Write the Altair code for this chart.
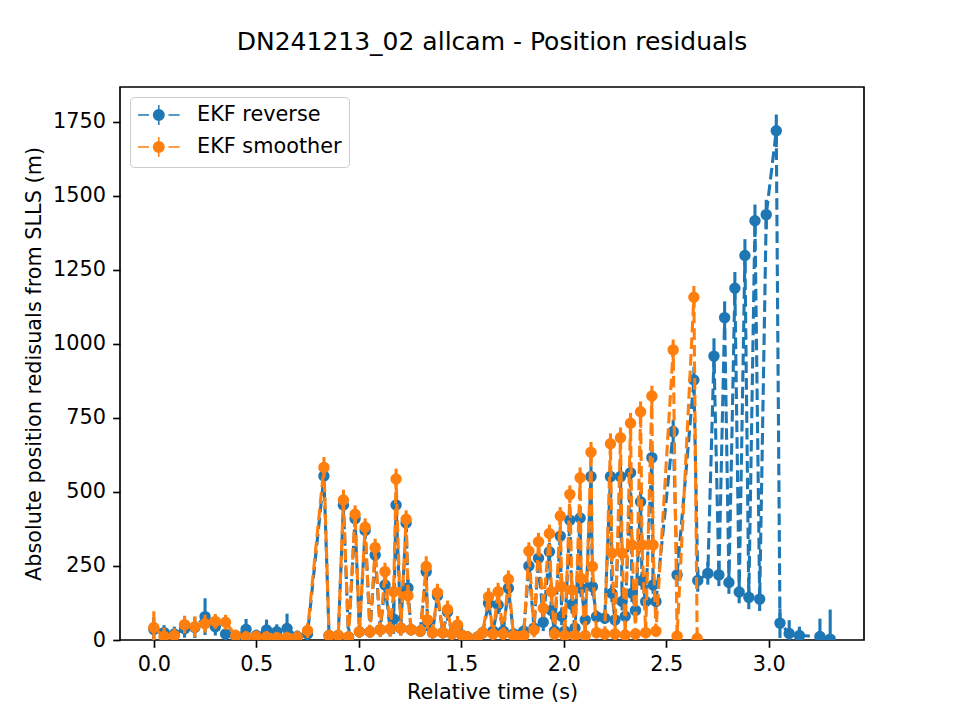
import altair as alt
import pandas as pd

# Series labels and matplotlib-style colours
SERIES = ["EKF reverse", "EKF smoother"]
COLORS = ["#1f77b4", "#ff7f0e"]

# EKF reverse: relative time (s), absolute position residual (m), 1-sigma (m)
rev_time = [0.00, 0.05, 0.10, 0.15, 0.20, 0.25, 0.30, 0.35, 0.40, 0.45, 0.50, 0.55, 0.60, 0.65, 0.70, 0.75,
            0.83, 0.855, 0.90, 0.925, 0.95, 0.982, 1.003, 1.031, 1.055, 1.08, 1.105, 1.128, 1.153, 1.17, 1.182, 1.205,
            1.231, 1.24, 1.255, 1.30, 1.329, 1.335, 1.36, 1.384, 1.41, 1.433, 1.455, 1.482, 1.505, 1.53, 1.58, 1.605,
            1.633, 1.655, 1.68, 1.705, 1.73, 1.755, 1.78, 1.805, 1.83, 1.855, 1.877, 1.90, 1.93, 1.94, 1.955, 1.983,
            1.99, 2.005, 2.03, 2.04, 2.055, 2.08, 2.085, 2.105, 2.133, 2.14, 2.16, 2.20, 2.228, 2.235, 2.25, 2.277,
            2.285, 2.30, 2.326, 2.333, 2.35, 2.375, 2.382, 2.40, 2.43, 2.436, 2.45, 2.534, 2.553, 2.635, 2.654,
            2.703, 2.733, 2.757, 2.785, 2.806, 2.835, 2.856, 2.884, 2.903, 2.933, 2.956, 2.988, 3.037, 3.055, 3.10,
            3.15, 3.25, 3.30]
rev_resid = [36, 25, 20, 38, 42, 79, 45, 20, 12, 36, 15, 34, 28, 39, 12, 20,
             554, 15, 15, 456, 10, 410, 28, 370, 28, 287, 35, 186, 37, 71, 456, 40,
             395, 176, 35, 30, 231, 60, 25, 150, 25, 95, 20, 45, 15, 10, 10, 25,
             124, 30, 118, 30, 175, 20, 15, 30, 250, 40, 276, 60, 298, 100, 30, 351,
             80, 30, 405, 120, 40, 412, 175, 68, 552, 180, 79, 74, 552, 158, 68, 552,
             130, 80, 565, 158, 100, 467, 200, 130, 616, 186, 130, 704, 220, 878, 201,
             225, 959, 220, 1089, 194, 1188, 162, 1299, 144, 1416, 138, 1437, 1720, 57, 22,
             15, 12, 3]
rev_err = [40, 25, 25, 30, 35, 62, 30, 25, 20, 35, 20, 35, 25, 50, 20, 25,
           35, 20, 20, 35, 20, 30, 20, 30, 20, 30, 25, 30, 25, 50, 35, 25,
           30, 30, 20, 20, 35, 30, 20, 30, 20, 30, 20, 30, 20, 20, 20, 20,
           30, 20, 30, 20, 30, 20, 20, 20, 30, 25, 30, 30, 30, 30, 20, 30,
           30, 20, 30, 30, 20, 35, 30, 20, 35, 30, 20, 20, 35, 30, 20, 35,
           30, 20, 35, 30, 20, 35, 30, 20, 35, 30, 30, 40, 40, 45, 38,
           38, 60, 38, 55, 38, 55, 38, 55, 40, 55, 40, 50, 55, 50, 45,
           30, 60, 100]

# EKF smoother
smo_time = [0.00, 0.05, 0.10, 0.15, 0.20, 0.25, 0.30, 0.35, 0.40, 0.45, 0.50, 0.55, 0.60, 0.65, 0.70, 0.75,
            0.83, 0.855, 0.90, 0.925, 0.95, 0.982, 1.003, 1.031, 1.055, 1.08, 1.105, 1.128, 1.153, 1.17, 1.182, 1.205,
            1.231, 1.24, 1.255, 1.30, 1.329, 1.335, 1.36, 1.384, 1.41, 1.433, 1.455, 1.482, 1.505, 1.53, 1.58, 1.605,
            1.633, 1.655, 1.68, 1.705, 1.73, 1.755, 1.78, 1.805, 1.83, 1.855, 1.877, 1.90, 1.93, 1.94, 1.955, 1.983,
            1.99, 2.005, 2.03, 2.04, 2.055, 2.08, 2.085, 2.105, 2.133, 2.14, 2.16, 2.20, 2.228, 2.235, 2.25, 2.277,
            2.285, 2.30, 2.326, 2.333, 2.35, 2.375, 2.382, 2.40, 2.43, 2.436, 2.45, 2.534, 2.553, 2.635, 2.651]
smo_resid = [42, 12, 15, 52, 45, 55, 63, 60, 15, 10, 12, 10, 8, 8, 10, 32,
             583, 15, 15, 473, 10, 425, 28, 381, 28, 312, 35, 231, 37, 163, 544, 40,
             408, 150, 35, 30, 248, 68, 25, 160, 25, 103, 20, 51, 15, 10, 10, 25,
             146, 20, 163, 20, 205, 15, 10, 15, 300, 34, 332, 107, 360, 163, 20, 419,
             180, 15, 492, 169, 15, 548, 208, 15, 634, 248, 25, 20, 663, 293, 20, 683,
             293, 17, 732, 321, 20, 771, 321, 25, 824, 321, 30, 980, 13, 1158, 5]
smo_err = [55, 30, 25, 30, 35, 30, 25, 25, 20, 20, 20, 20, 20, 20, 20, 25,
           35, 20, 20, 35, 20, 30, 20, 30, 20, 30, 25, 30, 25, 30, 35, 25,
           30, 30, 20, 20, 35, 30, 20, 30, 20, 30, 20, 30, 20, 20, 20, 20,
           30, 20, 30, 20, 30, 20, 20, 20, 30, 25, 30, 30, 30, 30, 20, 30,
           30, 20, 30, 30, 20, 35, 30, 20, 35, 30, 20, 20, 35, 30, 20, 35,
           30, 20, 35, 30, 20, 35, 30, 20, 35, 30, 20, 35, 20, 38, 20]

FONT = "DejaVu Sans"
# Legend handle: dashed line, error bar and marker (unit = 10 px, centre of handle at x=1.08)
LEGEND_SYMBOL = ("M-1,0H0.1M0.55,0H1.6M2.05,0H3.16"
                 "M1.08,-1V1"
                 "M1.605,0A0.525,0.525,0,1,1,0.555,0A0.525,0.525,0,1,1,1.605,0Z")


def series_frame(name, ts, vs, es):
    return pd.DataFrame({
        "series": name,
        "t": ts,
        "resid": vs,
        "lo": [v - e for v, e in zip(vs, es)],
        "hi": [v + e for v, e in zip(vs, es)],
        "seq": list(range(len(ts))),
    })


frames = [series_frame(SERIES[0], rev_time, rev_resid, rev_err),
          series_frame(SERIES[1], smo_time, smo_resid, smo_err)]

x_scale = alt.Scale(domain=[-0.165, 3.465], nice=False, zero=False)
y_scale = alt.Scale(domain=[0, 1868], nice=False, zero=False)
x_axis = alt.Axis(values=[0, 0.5, 1.0, 1.5, 2.0, 2.5, 3.0], format=".1f", title="Relative time (s)")
y_axis = alt.Axis(values=[0, 250, 500, 750, 1000, 1250, 1500, 1750], format="d",
                  title="Absolute position redisuals from SLLS (m)")
color_scale = alt.Scale(domain=SERIES, range=COLORS)
legend = alt.Legend(
    title=None, orient="top-left", offset=10.4, padding=7,
    fillColor="rgba(255,255,255,0.8)", strokeColor="#cccccc", cornerRadius=4,
    symbolType=LEGEND_SYMBOL, symbolSize=400, labelOffset=38, rowPadding=6,
    labelFont=FONT, labelFontSize=20.8, labelColor="black", symbolOpacity=1,
)

layers = []
for df, color in zip(frames, COLORS):
    base = alt.Chart(df)
    err = base.mark_rule(strokeWidth=3.1, color=color, clip=True).encode(
        x=alt.X("t:Q", scale=x_scale, axis=x_axis),
        y=alt.Y("lo:Q", scale=y_scale, axis=y_axis),
        y2="hi:Q",
    )
    line = base.mark_line(strokeWidth=3.1, strokeDash=[11.6, 5], color=color, clip=True).encode(
        x=alt.X("t:Q", scale=x_scale, axis=x_axis),
        y=alt.Y("resid:Q", scale=y_scale, axis=y_axis),
        order=alt.Order("seq:Q"),
    )
    pts = base.mark_point(filled=True, shape="circle", size=87, strokeWidth=2.1, opacity=1, clip=True).encode(
        x=alt.X("t:Q", scale=x_scale, axis=x_axis),
        y=alt.Y("resid:Q", scale=y_scale, axis=y_axis),
        fill=alt.Fill("series:N", scale=color_scale, legend=legend),
        stroke=alt.Stroke("series:N", scale=color_scale, legend=legend),
    )
    layers += [err, line, pts]

chart = alt.layer(*layers).properties(
    width=744, height=553,
    padding={"left": 120, "top": 87, "right": 96, "bottom": 80},
    autosize=alt.AutoSizeParams(type="none"),
    background="white",
    title=alt.TitleParams(
        text="DN241213_02 allcam - Position residuals", font=FONT, fontSize=25,
        fontWeight="normal", color="black", anchor="middle", offset=12.5, baseline="alphabetic",
    ),
).configure_view(
    stroke="black", strokeWidth=1.67
).configure_axis(
    grid=False, domain=False, tickColor="black", tickWidth=1.67, tickSize=7.3,
    labelPadding=7.3, labelFont=FONT, labelFontSize=20.8, labelColor="black",
    titleFont=FONT, titleFontSize=20.8, titleFontWeight="normal", titleColor="black",
    titlePadding=8.3, labelFlush=False,
)

chart.save("out.html", embed_options={"renderer": "svg", "actions": False})
